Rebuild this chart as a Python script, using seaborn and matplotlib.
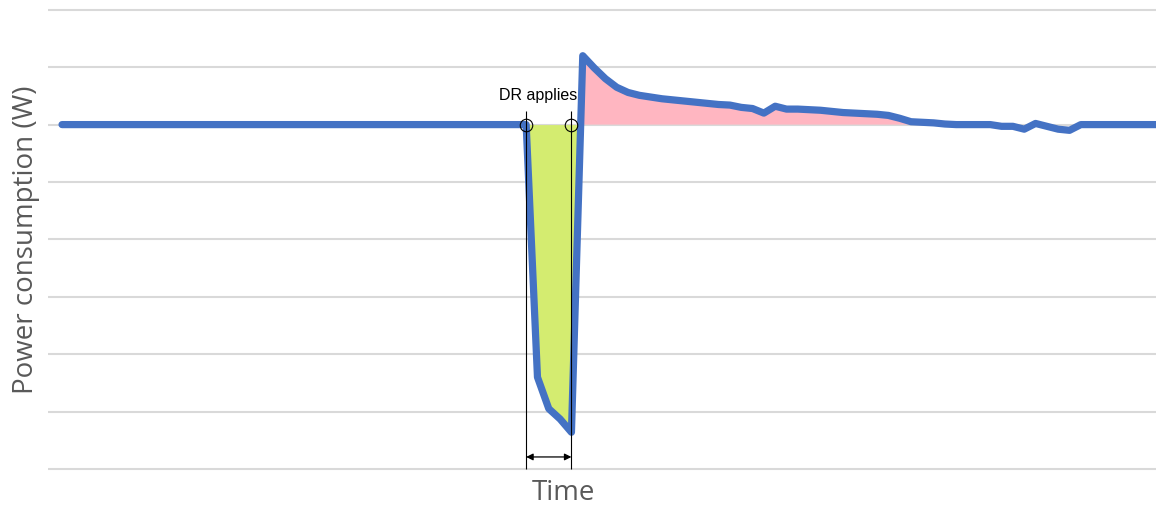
import matplotlib

matplotlib.use("Agg")

import matplotlib.pyplot as plt
import numpy as np
import pandas as pd
import seaborn as sns


# time steps (minutes) and measured power (W)
time_min = [0, 41, 42, 43, 44, 45, 46, 47, 48, 49, 50, 51, 52, 53, 54, 55, 56, 57,
            58, 59, 60, 61, 62, 63, 64, 65, 66, 67, 68, 69, 70, 71, 72, 73, 74, 75,
            76, 77, 78, 79, 80, 81, 82, 83, 84, 85, 86, 87, 88, 89, 90, 97]
power_w = [600, 600, 160, 105, 87, 64, 720, 699, 680, 665, 656, 651, 648, 645, 643,
           641, 639, 637, 635, 634, 630, 628, 620, 632, 627, 627, 626, 625, 623, 621,
           620, 619, 618, 616, 611, 605, 604, 603, 601, 600, 600, 600, 600, 597, 597,
           592, 602, 597, 592, 590, 600, 600]

baseline_w = 600
dr_start = 41
dr_end = 45
grid_levels = [0, 100, 200, 300, 400, 500, 600, 700, 800]

LINE_BLUE = "#4472C4"
SAVE_GREEN = "#D4EC70"
REBOUND_PINK = "#FFB6C1"
LABEL_GREY = "#595959"


def main() -> None:
    sns.set_style("white")
    plt.rcParams["font.family"] = ["Open Sans", "DejaVu Sans"]

    df = pd.DataFrame({"Time": time_min, "Power": power_w})
    t = df["Time"].to_numpy(dtype=float)
    p = df["Power"].to_numpy(dtype=float)

    fig = plt.figure(figsize=(11.56, 5.06), dpi=100)
    ax = fig.add_axes([48 / 1156, 26 / 506, 1108 / 1156, 480 / 506])

    # savings during the DR window (green) and rebound afterwards (pink)
    ax.fill_between(t, p, baseline_w, where=(p <= baseline_w) & (t <= dr_end + 1),
                    interpolate=True, color=SAVE_GREEN, lw=0, zorder=1)
    ax.fill_between(t, p, baseline_w, where=(p >= baseline_w) & (t >= dr_end),
                    interpolate=True, color=REBOUND_PINK, lw=0, zorder=1)

    sns.lineplot(data=df, x="Time", y="Power", ax=ax, color=LINE_BLUE, lw=5.2,
                 solid_capstyle="round", solid_joinstyle="round", zorder=3)

    # DR window markers
    ax.vlines([dr_start, dr_end], 0, 624, color="black", lw=0.8, zorder=4)
    ax.plot([dr_start, dr_end], [baseline_w, baseline_w], ls="none", marker="o",
            ms=9, mfc="none", mec="black", mew=0.8, zorder=5)
    ax.annotate("", xy=(dr_start, 21), xytext=(dr_end, 21),
                arrowprops=dict(arrowstyle="<|-|>", color="black", lw=0.9,
                                mutation_scale=10, shrinkA=0, shrinkB=0), zorder=5)
    ax.text(42.05, 652, "DR applies", ha="center", va="center", fontsize=11.5,
            family=["Liberation Sans", "DejaVu Sans"], color="black", zorder=5)

    ax.set_xlim(-1.24, 96.64)
    ax.set_ylim(-17.4, 818.8)
    ax.set_yticks(grid_levels)
    ax.set_xticks([])
    ax.tick_params(axis="y", length=0, labelleft=False)
    ax.grid(axis="y", color="#D9D9D9", lw=1.5, zorder=0)
    ax.set_axisbelow(True)
    for spine in ax.spines.values():
        spine.set_visible(False)

    ax.set_xlabel("Time", fontsize=20, color=LABEL_GREY, va="center")
    ax.xaxis.set_label_coords(0.465, -0.028)
    ax.set_ylabel("Power consumption (W)", fontsize=20, color=LABEL_GREY, va="center")
    ax.yaxis.set_label_coords(-0.02, 0.5)

    fig.savefig("out.png", dpi=100)
    plt.close(fig)


if __name__ == "__main__":
    main()
